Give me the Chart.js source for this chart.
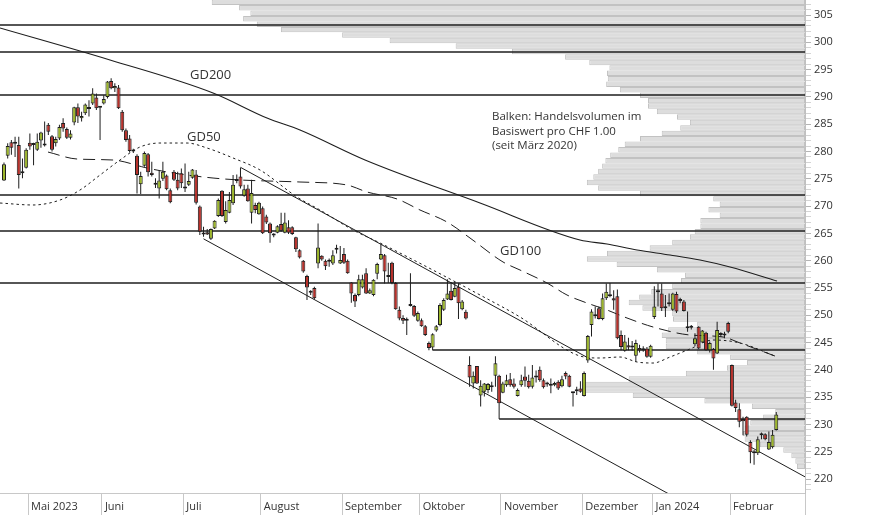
<!DOCTYPE html>
<html><head><meta charset="utf-8">
<script src="https://cdn.jsdelivr.net/npm/chart.js@4.4.1/dist/chart.umd.min.js"></script>
<style>html,body{margin:0;padding:0;background:#fff;}canvas{display:block;}</style>
</head><body>
<canvas id="c" width="874" height="515"></canvas>
<script>
// ---- Daily candles (trading-day index 0 = 20 Apr 2023) ----
const openP = [274.7,279.2,281.7,281.4,281.2,276.0,277.0,281.6,281.2,280.3,282.0,281.1,284.9,282.8,281.5,282.4,285.2,284.1,282.5,285.3,
288.1,286.1,287.0,287.8,288.8,289.9,288.0,288.8,290.0,292.9,291.6,291.7,287.3,283.9,282.4,280.2,279.2,274.0,277.4,279.5,
276.1,273.9,273.2,275.0,275.6,272.9,276.3,274.8,276.0,273.2,273.9,275.2,275.8,269.9,265.0,265.2,264.0,265.9,268.2,272.8,
267.1,268.8,270.5,274.6,275.4,271.9,273.2,268.8,270.2,268.5,269.6,268.1,266.8,264.6,265.1,266.7,265.1,266.1,266.1,264.3,
261.9,260.0,257.2,254.2,255.0,259.5,260.9,260.0,259.8,259.5,262.0,259.5,261.2,260.0,256.0,253.7,253.7,255.1,257.7,254.0,
253.7,257.6,260.2,261.0,257.2,259.6,255.9,251.0,249.5,249.1,251.7,251.7,249.0,249.1,248.0,244.9,244.1,247.2,248.2,251.0,
252.9,254.5,253.4,255.2,251.1,250.65,240.9,237.5,240.7,235.3,236.0,236.3,236.8,238.9,238.9,235.8,237.2,238.3,237.5,235.2,
237.2,238.8,238.0,236.9,238.6,240.0,238.1,237.3,237.1,237.2,237.8,237.0,239.4,238.9,235.7,236.1,236.6,235.2,241.7,248.2,
249.8,251.3,249.3,253.1,253.6,253.1,253.5,246.4,243.5,244.5,244.2,242.6,244.0,243.6,243.9,242.4,249.7,254.2,254.0,251.3,
252.0,251.0,253.9,252.6,252.5,247.8,247.7,244.7,247.9,245.0,246.8,243.6,243.8,243.0,246.5,246.3,248.6,240.9,234.0,232.8,
231.0,231.4,226.8,224.8,224.7,228.0,228.2,225.4,225.8,229.0];
const highP = [278.0,281.5,282.1,282.7,282.7,278.7,280.6,283.3,281.6,283.3,283.6,285.5,285.2,283.0,282.7,284.9,286.1,284.4,283.9,288.2,
288.8,287.3,288.8,289.4,291.6,290.6,288.3,290.3,292.9,293.4,292.5,292.2,287.6,284.2,283.0,280.5,279.5,276.3,280.0,279.7,
278.1,275.1,276.6,278.1,275.8,273.2,276.6,276.3,276.9,277.8,276.3,276.8,276.6,270.1,266.2,265.8,265.9,267.4,271.4,272.9,
270.9,272.6,275.7,275.8,277.0,273.9,273.9,274.8,270.6,270.8,269.9,268.4,267.0,265.0,266.5,268.8,268.8,267.4,266.3,264.4,
262.1,260.1,257.4,254.6,255.2,266.8,261.0,260.2,260.4,261.9,262.9,262.7,262.3,260.2,256.1,254.0,257.4,257.4,258.6,254.9,
256.6,259.6,263.0,261.2,259.6,259.8,256.1,251.6,250.0,249.6,257.7,251.9,250.7,249.4,248.2,245.2,246.7,248.2,252.2,253.1,
256.6,256.1,256.1,255.8,252.8,251.0,242.5,239.7,240.7,238.1,237.6,237.6,237.8,242.5,239.1,237.8,239.1,239.4,238.4,236.6,
239.1,240.6,239.1,240.9,239.9,240.6,238.4,237.8,238.4,237.8,238.1,238.9,239.7,239.1,236.0,236.9,237.9,239.7,246.4,251.1,
251.6,251.6,254.0,255.8,255.9,254.6,254.7,247.2,246.4,245.9,245.3,245.5,244.6,244.3,244.2,244.6,255.3,255.8,255.8,253.7,
254.0,254.1,254.3,253.2,252.8,250.7,248.2,246.7,248.0,247.3,247.0,245.2,244.0,248.8,246.9,247.0,248.8,241.0,234.5,233.9,
231.4,231.5,227.1,225.3,227.8,228.5,228.4,228.7,229.0,232.3];
const lowP = [274.6,278.7,279.4,279.0,273.2,275.1,276.9,280.3,277.5,280.1,280.7,280.9,283.0,280.0,280.9,282.1,283.6,282.3,282.2,284.8,
285.2,285.5,286.7,286.4,288.5,287.6,282.1,288.6,289.7,291.4,290.9,287.8,283.6,281.8,279.8,279.7,272.3,272.2,277.2,275.4,
275.4,273.3,271.4,274.6,272.9,270.5,274.6,272.9,273.3,272.6,273.7,275.0,270.3,264.7,264.4,264.7,263.8,265.8,268.0,268.0,
266.8,268.7,270.2,274.2,273.2,271.7,270.8,266.8,268.7,268.4,264.9,266.7,263.3,264.3,265.0,265.3,265.0,264.9,264.7,261.6,
260.4,257.8,252.8,253.7,252.9,258.6,260.0,258.3,258.9,259.2,261.3,259.4,259.4,257.6,252.3,251.5,253.5,254.9,253.9,253.9,
253.5,256.6,260.1,255.8,255.9,255.7,251.0,249.1,248.4,246.4,251.6,249.7,248.8,247.9,246.2,243.6,243.6,247.0,248.0,250.8,
252.8,252.7,253.3,249.3,250.9,249.2,236.9,236.6,237.4,233.3,235.1,235.7,236.0,236.9,231.0,235.7,236.9,236.9,236.6,235.1,
236.9,236.9,236.6,236.6,237.7,237.8,236.6,236.9,235.7,237.0,236.3,236.8,238.3,236.8,233.3,235.4,235.8,235.1,241.3,246.1,
249.4,249.2,249.1,252.8,253.3,251.0,245.6,243.6,243.3,243.6,243.5,241.5,243.2,243.3,242.2,242.2,249.3,251.6,250.8,249.7,
251.6,250.8,250.4,252.2,250.7,247.0,247.4,244.3,243.8,244.9,243.5,243.2,240.0,242.9,246.0,245.8,246.7,233.3,232.3,229.5,
228.0,227.8,222.9,222.6,224.4,227.3,227.1,225.3,225.6,228.9];
const closeP = [277.65,281.0,280.7,281.7,275.7,276.1,280.3,280.9,281.3,281.8,283.5,281.2,283.6,280.3,282.3,284.5,284.2,282.5,283.3,288.1,
286.4,286.5,288.6,287.9,290.6,287.9,288.1,289.6,292.8,291.6,292.0,287.9,283.9,282.1,280.1,280.0,275.7,275.5,279.7,276.2,
275.7,274.1,274.7,276.3,273.1,270.7,274.8,273.2,274.2,273.6,274.6,276.7,270.6,265.3,264.8,264.8,265.8,267.3,271.1,268.2,
269.3,271.1,273.9,274.7,273.6,273.1,270.9,272.4,269.3,270.6,265.0,267.0,265.0,264.7,266.3,265.5,267.0,265.1,264.9,262.1,
260.6,258.0,255.1,254.1,253.1,262.4,260.2,259.0,259.9,261.0,262.2,260.1,259.6,257.7,254.0,252.5,256.6,256.6,254.0,254.6,
256.5,259.4,261.2,258.0,257.0,255.9,251.1,249.4,249.0,249.0,251.8,249.9,250.4,248.0,246.4,244.0,246.5,248.0,251.9,252.8,
254.0,252.8,255.0,252.2,252.5,249.4,238.6,238.9,237.5,237.1,237.5,237.4,237.2,241.2,233.9,237.5,238.1,237.2,236.9,236.3,
238.1,238.0,236.8,238.6,238.7,238.1,236.8,237.5,237.2,237.6,236.6,238.3,238.8,236.9,235.8,236.3,236.0,239.4,246.2,250.7,
249.9,249.3,253.1,254.3,253.5,252.7,245.8,244.2,245.2,244.1,244.1,244.9,243.6,243.9,242.4,244.4,251.6,254.4,251.3,251.5,
252.3,254.0,250.7,252.8,250.8,247.6,247.9,245.8,243.9,247.2,243.6,244.9,242.1,247.3,246.4,246.5,247.0,233.4,233.0,230.5,
230.6,228.1,224.9,224.7,227.3,228.1,227.3,226.8,228.1,231.8];

// ---- Moving averages: [trading-day index, price] ----
const gd200 = [[-1.08,302.62],[28.69,296.76],[56.57,290.71],[71.18,286.13],[80.11,283.93],[97.71,278.44],[128.83,270.56],
[155.89,263.79],[163.2,263.05],[171.32,261.95],[180.25,261.04],[188.37,260.12],[196.49,258.84],[209.21,256.27]];
const gd100 = [[11.91,279.9],[19.76,278.62],[29.5,278.44],[38.71,276.97],[45.74,276.06],[56.57,275.14],[63.87,274.78],
[80.11,274.41],[92.83,273.86],[98.25,272.58],[106.37,271.3],[112.59,269.28],[119.9,267.08],[126.12,264.15],[135.05,259.76],
[139.65,258.29],[146.96,255.91],[152.37,253.71],[157.78,252.24],[163.2,250.96],[168.61,249.5],[175.65,247.85],[185.66,246.38],
[194.59,246.02],[199.19,244.92],[208.66,242.53]];
const gd50 = [[-1.08,270.56],[7.85,270.2],[15.16,271.11],[20.57,272.94],[25.99,275.69],[31.4,278.44],[36.81,280.82],
[42.22,281.55],[49.53,281.55],[54.94,280.64],[61.98,278.81],[69.29,276.61],[79.3,271.66],[85.53,269.28],[94.46,265.62],
[101.77,263.24],[114.49,258.84],[128.83,253.71],[139.65,249.68],[155.08,242.72],[161.31,242.17],[166.72,242.35],
[171.32,241.44],[175.65,241.25],[180.25,242.35],[185.66,243.82],[191.89,245.47],[199.19,244.92],[208.66,242.53]];

// ---- Horizontal support / resistance levels ----
const hLevels = [303.17, 298.22, 290.35, 272.03, 265.43, 255.9];
const hPartial = [[116, 243.63], [134, 231.0]]; // [start index, level]
// ---- Trend channel: [index, price] pairs ----
const trendUpper = [[64, 277.1], [216.78, 220.4]];
const trendLower = [[54, 264.0], [182, 216.5]];

// ---- Volume profile (bucket lower bound CHF, relative volume) ----
const volLevels = [307,306,305,304,303,302,301,300,299,298,297,296,295,294,293,292,291,290,289,288,287,286,285,284,283,282,281,280,
279,278,277,276,275,274,273,272,271,270,269,268,267,266,265,264,263,262,261,260,259,258,257,256,255,254,253,252,251,250,249,248,
247,246,245,244,243,242,241,240,239,238,237,236,235,234,233,232,231,230,229,228,227,226,225,224,223,222];
const volValues = [73.7,70.3,68.9,69.8,68.1,65.1,57.5,51.6,43.4,36.4,29.8,26.8,24.3,24.6,24.5,24.7,23.0,20.5,19.5,19.5,18.4,15.9,14.3,15.5,
17.8,20.5,22.4,23.2,24.2,24.8,25.2,25.7,26.3,27.1,25.7,20.5,11.4,10.6,12.0,10.6,13.0,13.0,13.7,14.3,16.5,19.3,24.6,27.1,23.4,18.4,
14.9,15.4,16.5,19.1,20.6,21.9,20.2,16.5,16.4,13.4,17.0,17.8,17.3,17.3,13.4,9.3,7.2,9.7,14.8,21.9,27.6,27.6,21.4,12.5,6.6,3.7,
5.2,6.8,7.5,7.7,7.5,5.6,2.7,1.7,1.2,1.0];

// ---- Axis labels ----
const monthLabels = ['Mai 2023','Juni','Juli','August','September','Oktober','November','Dezember','Jan 2024','Februar'];
const monthStarts = [6.5, 26.5, 48.5, 69.5, 91.5, 112.5, 134.5, 156.5, 175.5, 196.5];
const maLabels = [['GD200', 50.34, 294.01], ['GD50', 49.53, 282.65], ['GD100', 134.24, 261.77]];
const noteLines = ['Balken: Handelsvolumen im', 'Basiswert pro CHF 1.00', '(seit März 2020)'];

// ---- Chart construction ----
const X_MIN = -1.08, X_MAX = 216.78, Y_MIN = 217.44, Y_MAX = 307.75;
const GREEN = '#9cb62a', RED = '#b8302a', INK = '#1e1e1e';
const FONT = '"Open Sans", "Noto Sans", sans-serif';

const xy = arr => arr.map(p => ({x: p[0], y: p[1]}));
const lineDs = (data, extra) => Object.assign({type: 'line', data, borderColor: INK, borderWidth: 1,
  pointRadius: 0, fill: false, order: 6}, extra);

const datasets = [];
datasets.push({type: 'bar', indexAxis: 'y', xAxisID: 'x2', yAxisID: 'y', order: 20,
  data: volLevels.map((l, i) => ({y: l + 0.32, x: volValues[i]})),
  backgroundColor: '#dddddd', borderColor: '#c2c2c2', borderWidth: 1, borderSkipped: false,
  barThickness: 5.46, grouped: false, inflateAmount: 0});
hLevels.forEach(l => datasets.push(lineDs([{x: X_MIN, y: l}, {x: X_MAX, y: l}], {borderWidth: 1.4, order: 9})));
hPartial.forEach(p => datasets.push(lineDs([{x: p[0], y: p[1]}, {x: X_MAX, y: p[1]}], {borderWidth: 1.4, order: 9})));
datasets.push(lineDs(xy(trendUpper), {order: 8}));
datasets.push(lineDs(xy(trendLower), {order: 8}));
datasets.push(lineDs(xy(gd200), {cubicInterpolationMode: 'monotone', borderWidth: 1.1}));
datasets.push(lineDs(xy(gd100), {cubicInterpolationMode: 'monotone', borderDash: [12, 6]}));
datasets.push(lineDs(xy(gd50), {cubicInterpolationMode: 'monotone', borderDash: [2.5, 3]}));
datasets.push({type: 'bar', order: 3, grouped: false, barThickness: 1, inflateAmount: 0,
  data: lowP.map((l, i) => ({x: i, y: [l, highP[i]]})), backgroundColor: INK, borderWidth: 0});
datasets.push({type: 'bar', order: 2, grouped: false, barThickness: 4, inflateAmount: 0, minBarLength: 2,
  data: openP.map((o, i) => ({x: i, y: [o, closeP[i]]})),
  backgroundColor: openP.map((o, i) => closeP[i] >= o ? GREEN : RED),
  borderColor: INK, borderWidth: 1, borderSkipped: false});

const textPlugin = {
  id: 'texts',
  afterDatasetsDraw(chart) {
    const {ctx, scales: {x, y}} = chart;
    ctx.save();
    ctx.fillStyle = '#333';
    ctx.textAlign = 'left';
    ctx.textBaseline = 'middle';
    ctx.font = '13px ' + FONT;
    maLabels.forEach(m => ctx.fillText(m[0], x.getPixelForValue(m[1]), y.getPixelForValue(m[2])));
    ctx.font = '11.5px ' + FONT;
    const nx = x.getPixelForValue(132.07), ny = y.getPixelForValue(286.32);
    noteLines.forEach((t, i) => ctx.fillText(t, nx, ny + i * 14.5));
    ctx.restore();
  }
};

new Chart(document.getElementById('c'), {
  type: 'bar',
  data: {datasets},
  plugins: [textPlugin],
  options: {
    responsive: false, animation: false, devicePixelRatio: 1,
    layout: {padding: 0, autoPadding: false},
    plugins: {legend: {display: false}, tooltip: {enabled: false}, title: {display: false}},
    scales: {
      x: {type: 'linear', position: 'bottom', min: X_MIN, max: X_MAX, offset: false,
        afterFit: s => { s.height = 22; s.paddingLeft = 0; s.paddingRight = 0; },
        afterBuildTicks: s => { s.ticks = monthStarts.map(v => ({value: v})).concat([{value: X_MAX}]); },
        grid: {drawOnChartArea: false, drawTicks: true, tickLength: 22, color: '#c8c8c8', offset: false},
        border: {display: true, color: '#c8c8c8'},
        ticks: {autoSkip: false, maxRotation: 0, minRotation: 0, align: 'start', labelOffset: 3, padding: -15,
          color: '#333', font: {family: FONT, size: 11},
          callback: (v, i) => monthLabels[i] || ''}},
      x2: {type: 'linear', axis: 'x', display: false, min: 0, max: 100, reverse: true, offset: false},
      y: {type: 'linear', position: 'right', min: Y_MIN, max: Y_MAX, offset: false,
        afterFit: s => { s.width = 69; s.paddingTop = 0; s.paddingBottom = 0; },
        afterBuildTicks: s => { const t = []; for (let v = 218; v <= 307; v++) t.push({value: v}); s.ticks = t; },
        grid: {drawOnChartArea: false, drawTicks: true, tickLength: 6, offset: false,
          tickColor: c => (c.tick && c.tick.value % 5 === 0) ? '#b4b4b4' : '#d4d4d4'},
        border: {display: true, color: '#c0c0c0'},
        ticks: {autoSkip: false, padding: 3, color: '#333', font: {family: FONT, size: 11},
          callback: v => (v % 5 === 0 ? String(v) : '')}}
    }
  }
});
</script>
</body></html>
